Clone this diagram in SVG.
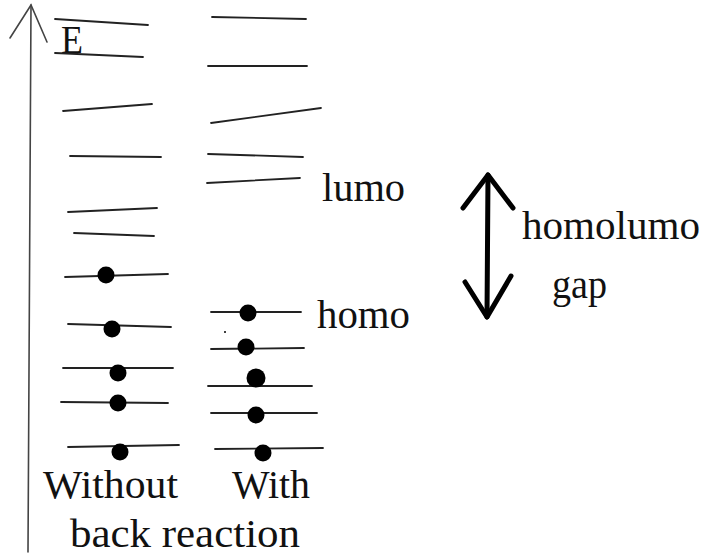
<svg xmlns="http://www.w3.org/2000/svg" width="707" height="555" viewBox="0 0 707 555">
<style>
.lv{stroke:#222;stroke-width:1.8;fill:none;stroke-linecap:round}
.ax{stroke:#444;stroke-width:1.6;fill:none;stroke-linecap:round}
.dot{fill:#000}
.t{font-family:"Liberation Serif","Times New Roman",serif;font-size:40px;fill:#111}
.ga{stroke:#000;stroke-width:5;fill:none;stroke-linecap:round;stroke-linejoin:round}
</style>
<rect width="707" height="555" fill="#fff"/>
<g id="axis">
<path class="ax" d="M31,5 L28,552"/>
<path class="ax" d="M10,38 L31,5 L47,42"/>
<text class="t" x="61" y="53" font-size="38" textLength="22" lengthAdjust="spacingAndGlyphs">E</text>
</g>
<g id="without-levels">
<path class="lv" d="M55,19 L148,25"/>
<path class="lv" d="M55,53 L143,57"/>
<path class="lv" d="M63,111 L152,104"/>
<path class="lv" d="M70,156 L161,157"/>
<path class="lv" d="M68,212 L157,208"/>
<path class="lv" d="M74,233 L154,236"/>
<path class="lv" d="M65,277 L168,274"/>
<path class="lv" d="M68,324 L171,327"/>
<path class="lv" d="M63,368 L173,368"/>
<path class="lv" d="M61,402 L168,403"/>
<path class="lv" d="M68,447 L179,445"/>
<circle class="dot" cx="106" cy="275" r="8.5"/>
<circle class="dot" cx="112" cy="329" r="8.5"/>
<circle class="dot" cx="118" cy="373" r="8.5"/>
<circle class="dot" cx="118" cy="403" r="8.5"/>
<circle class="dot" cx="120" cy="452" r="8.5"/>
</g>
<g id="with-levels">
<path class="lv" d="M212,17 L306,19"/>
<path class="lv" d="M208,66 L307,66"/>
<path class="lv" d="M211,123 L321,108"/>
<path class="lv" d="M208,154 L303,157"/>
<path class="lv" d="M207,183 L300,178"/>
<path class="lv" d="M211,312 L301,312"/>
<path class="lv" d="M211,349 L304,348"/>
<path class="lv" d="M208,386 L312,386"/>
<path class="lv" d="M211,413 L317,413"/>
<path class="lv" d="M215,449 L323,448"/>
<circle class="dot" cx="248" cy="313" r="8.5"/>
<circle class="dot" cx="246" cy="347" r="8.5"/>
<circle class="dot" cx="256" cy="378" r="9.5"/>
<circle class="dot" cx="256" cy="415" r="8.5"/>
<circle class="dot" cx="263" cy="453" r="8.5"/>
<circle class="dot" cx="225" cy="332" r="1"/>
</g>
<g id="labels">
<text class="t" x="322" y="201" textLength="83" lengthAdjust="spacingAndGlyphs">lumo</text>
<text class="t" x="317" y="328" textLength="93" lengthAdjust="spacingAndGlyphs">homo</text>
<text class="t" x="522" y="239" textLength="178" lengthAdjust="spacingAndGlyphs">homolumo</text>
<text class="t" x="552" y="298" textLength="55" lengthAdjust="spacingAndGlyphs">gap</text>
<text class="t" x="43" y="498" textLength="135" lengthAdjust="spacingAndGlyphs">Without</text>
<text class="t" x="232" y="498" textLength="78" lengthAdjust="spacingAndGlyphs">With</text>
<text class="t" x="70" y="547" textLength="230" lengthAdjust="spacingAndGlyphs">back reaction</text>
</g>
<g id="connectors">
<path class="ga" d="M488,175 L487,317"/>
<path class="ga" d="M463,208 L488,175 L513,208"/>
<path class="ga" d="M465,282 L487,317 L511,276"/>
</g>
</svg>
